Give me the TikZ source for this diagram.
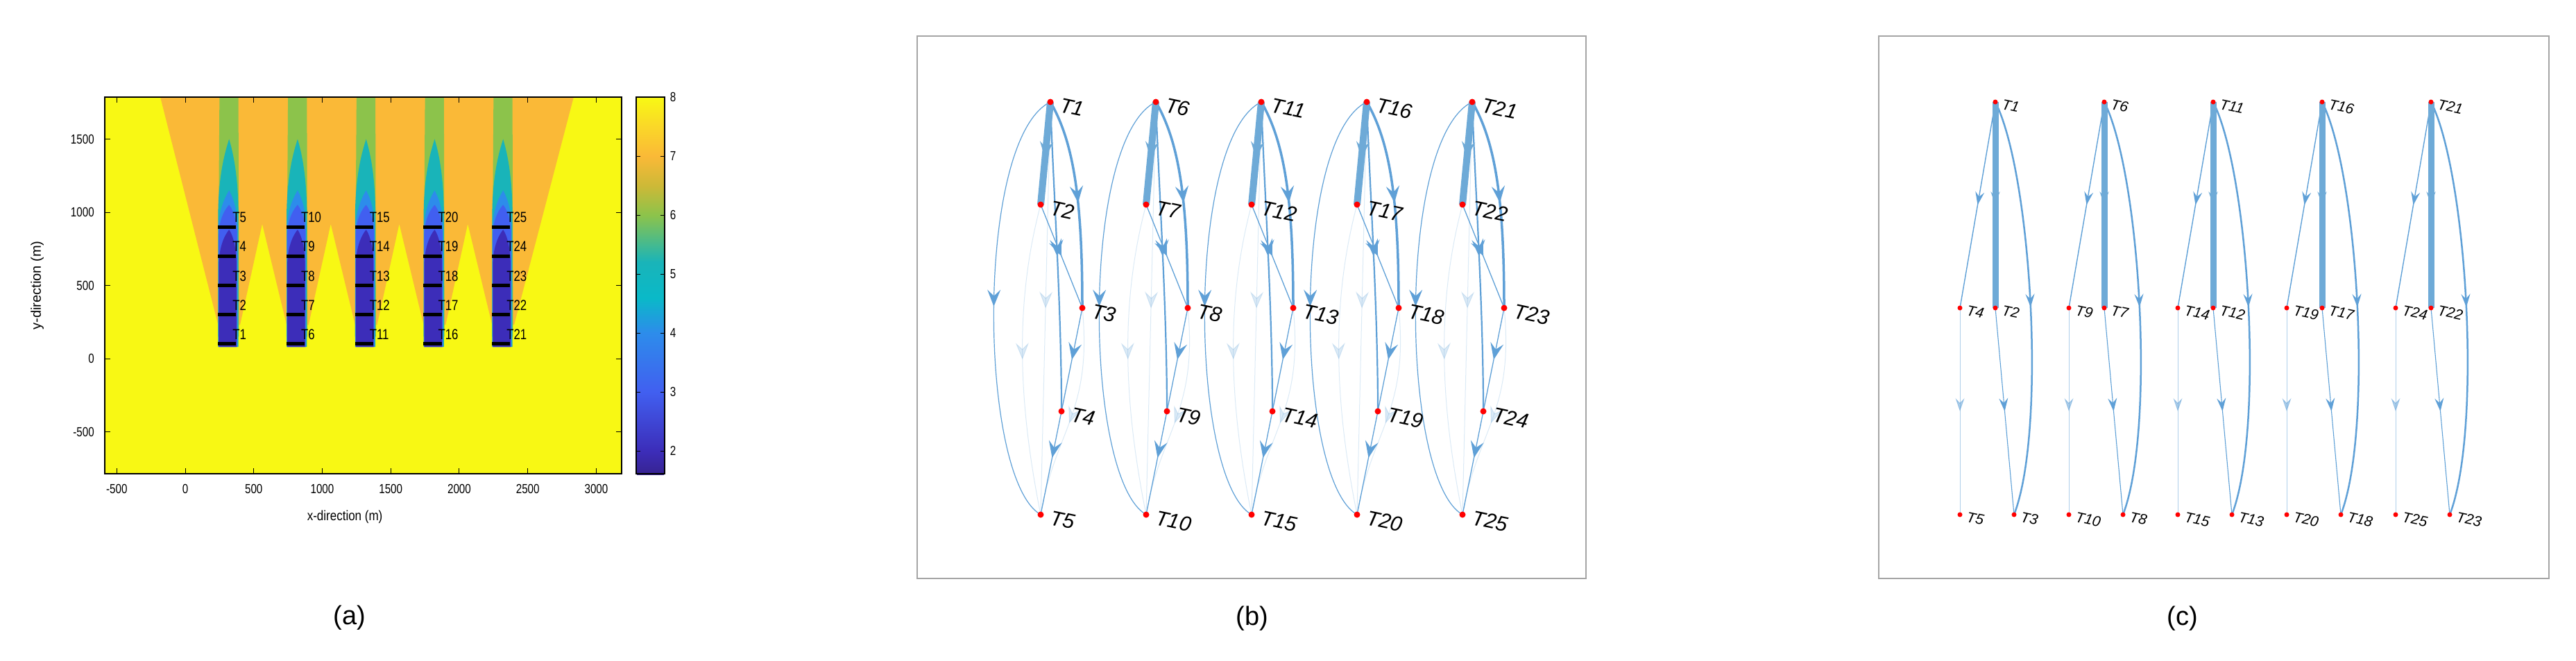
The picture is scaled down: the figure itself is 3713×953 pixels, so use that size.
\documentclass[tikz,border=0pt]{standalone}
\usepackage{fontspec}
\setmainfont{Liberation Sans}
\usetikzlibrary{arrows.meta,decorations.markings}
\definecolor{eb}{RGB}{95,160,215}
\definecolor{pyel}{RGB}{248,248,20}
\definecolor{pora}{RGB}{250,185,55}
\definecolor{pgrn}{RGB}{140,195,75}
\definecolor{ptea}{RGB}{25,180,185}
\definecolor{plbl}{RGB}{45,140,235}
\definecolor{pblu}{RGB}{65,95,240}
\definecolor{pdbl}{RGB}{60,45,185}
\pgfdeclarelayer{bg}
\pgfsetlayers{bg,main}
\tikzset{
  mk/.style={postaction={decorate},decoration={markings,mark=at position #1 with {\arrow{Stealth[length=24pt,width=19pt,inset=9pt]}}}},
  mkc/.style={postaction={decorate},decoration={markings,mark=at position #1 with {\arrow{Stealth[length=19pt,width=13pt,inset=7pt]}}}},
  bdot/.style={circle,fill=red,inner sep=0pt,minimum size=9pt},
  cdot/.style={circle,fill=red,inner sep=0pt,minimum size=7pt},
  blab/.style={anchor=west,rotate=-12,inner sep=0pt,font=\fontsize{30}{30}\selectfont\itshape},
  clab/.style={anchor=west,rotate=-12,inner sep=0pt,font=\fontsize{21}{21}\selectfont\itshape},
  edge/.style={draw=eb,line width=1.3pt},
  faint/.style={draw=eb,line width=1pt,opacity=0.22},
  panel/.style={draw={rgb,255:red,165;green,165;blue,165},line width=2pt},
  tick/.style={font=\fontsize{19}{19}\selectfont,xscale=0.8},
  plab/.style={font=\fontsize{38}{38}\selectfont}
}
\begin{document}
\begin{tikzpicture}[x=1pt,y=-1pt]
\useasboundingbox (0,0) rectangle (3713,953);
\begin{pgfonlayer}{bg}
\fill[white] (0,0) rectangle (3713,953);
\end{pgfonlayer}
% ---------------- panel (a)
\begin{scope}[shift={(267,517)},x=0.1975pt,y=0.211pt]
 \begin{scope}
 \clip (-587,-787) rectangle (3185,1787);
 \fill[pyel] (-587,-787) rectangle (3185,1787);
 \fill[pora] (-182,1787) -- (240,230) -- (400,230) -- (562,920) -- (740,230) -- (900,230) -- (1062,920)
   -- (1240,230) -- (1400,230) -- (1562,920) -- (1740,230) -- (1900,230) -- (2062,920)
   -- (2240,230) -- (2400,230) -- (2835,1787) -- cycle;
 \foreach \c in {300,800,1300,1800,2300}{
   \fill[pgrn] (\c-50,1787) -- (\c-62,150) -- (\c+92,150) -- (\c+88,1787) -- cycle;
   \fill[ptea] (\c-60,80) -- (\c-60,1000) .. controls (\c-55,1300) and (\c+5,1450) .. (\c+20,1500)
      .. controls (\c+35,1450) and (\c+85,1300) .. (\c+88,1000) -- (\c+88,80) -- cycle;
   \fill[plbl] (\c-58,80) -- (\c-58,900) .. controls (\c-50,1050) and (\c+10,1130) .. (\c+20,1150)
      .. controls (\c+30,1130) and (\c+80,1050) .. (\c+82,900) -- (\c+82,80) -- cycle;
   \fill[pblu] (\c-56,80) -- (\c-56,850) .. controls (\c-50,980) and (\c+10,1040) .. (\c+20,1050)
      .. controls (\c+30,1040) and (\c+76,980) .. (\c+78,850) -- (\c+78,80) -- cycle;
   \fill[pdbl] (\c-55,80) -- (\c-55,650) .. controls (\c-50,800) and (\c+10,870) .. (\c+20,880)
      .. controls (\c+30,870) and (\c+72,800) .. (\c+74,650) -- (\c+74,80) -- cycle;
 }
 \end{scope}
 \draw[line width=1.5pt] (-587,-787) rectangle (3185,1787);
 \foreach \v in {-500,0,...,3000}{
   \draw[line width=1pt] (\v,-787) -- ++(0,40) (\v,1787) -- ++(0,-40);
   \node[tick,below] at (\v,-840) {\v};
 }
 \foreach \v in {-500,0,...,1500}{
   \draw[line width=1pt] (-587,\v) -- ++(40,0) (3185,\v) -- ++(-40,0);
   \node[tick,left] at (-650,\v) {\v};
 }
 \node[font=\fontsize{20}{20}\selectfont,xscale=0.85] at (1165,-1080) {x-direction (m)};
 \node[font=\fontsize{20}{20}\selectfont,rotate=90] at (-1080,500) {y-direction (m)};
 \foreach \c [count=\k from 0] in {300,800,1300,1800,2300}{
   \foreach \i in {1,...,5}{
     \pgfmathtruncatemacro\n{5*\k+\i}
     \pgfmathsetmacro\yy{100+200*(\i-1)}
     \draw[line width=5pt] (\c-62,\yy) -- (\c+72,\yy);
     \node[anchor=west,inner sep=0pt,font=\fontsize{21}{21}\selectfont,xscale=0.8] at (\c+45,\yy+65) {T\n};
   }
 }
\end{scope}
% colorbar
\foreach \va/\vb/\ca/\cb in {1.6/2/{rgb,255:red,55;green,35;blue,145}/pdbl,2/3/pdbl/pblu,3/4/pblu/plbl,4/4.6/plbl/{rgb,255:red,10;green,185;blue,200},4.6/5.2/{rgb,255:red,10;green,185;blue,200}/ptea,5.2/6/ptea/pgrn,6/6.5/pgrn/{rgb,255:red,205;green,185;blue,55},6.5/7/{rgb,255:red,205;green,185;blue,55}/pora,7/7.5/pora/{rgb,255:red,250;green,215;blue,40},7.5/8/{rgb,255:red,250;green,215;blue,40}/pyel}{
  \shade[bottom color=\ca,top color=\cb] (918,{650-(\va-2)*85}) rectangle (957,{650-(\vb-2)*85+0.5});
}
\draw[line width=1.5pt] (917,140) rectangle (958,683);
\foreach \v in {2,...,8}{
  \draw[line width=1pt] (917,{650-(\v-2)*85}) -- ++(6,0) (958,{650-(\v-2)*85}) -- ++(-6,0);
  \node[tick,anchor=west] at (963,{650-(\v-2)*85}) {\v};
}
\node[plab] at (504,891) {(a)};
% ---------------- panel (b)
\draw[panel] (1322,52) rectangle (2286,834);
\node[plab] at (1805,892) {(b)};
\foreach \k in {0,...,4}{
  \pgfmathsetmacro\dx{152*\k}
  \foreach \i/\x/\y in {1/1514/147,2/1500/295,3/1560/444,4/1530/593,5/1500/742}{
    \pgfmathtruncatemacro\n{5*\k+\i}
    \node[bdot] (b\n) at (\x+\dx,\y) {};
    \node[blab] at ([shift={(14,4)}]b\n.center) {T\n};
  }
  \pgfmathtruncatemacro\a{5*\k+1}
  \pgfmathtruncatemacro\b{5*\k+2}
  \pgfmathtruncatemacro\c{5*\k+3}
  \pgfmathtruncatemacro\d{5*\k+4}
  \pgfmathtruncatemacro\e{5*\k+5}
  \begin{pgfonlayer}{bg}
  \path[faint,mk=0.5] (b\a.center) -- (b\e.center);
  \path[faint,mk=0.5] (b\b.center) .. controls +(-40,150) and +(-30,-150) .. (b\e.center);
  \path[faint,mk=0.55] (b\c.center) .. controls +(15,150) and +(20,-120) .. (b\e.center);
  \path[edge,line width=1.2pt,mk=0.5] (b\a.center) .. controls (1405+\dx,200) and (1410+\dx,690) .. (b\e.center);
  \path[edge,mk=0.5] (b\b.center) -- (b\c.center);
  \path[edge,mk=0.5] (b\c.center) -- (b\d.center);
  \path[edge,mk=0.45] (b\d.center) -- (b\e.center);
  \path[edge,line width=2.2pt,mk=0.5] (b\a.center) .. controls +(4,120) and +(0,-150) .. (b\d.center);
  \path[edge,line width=3.5pt,mk=0.5] (b\a.center) .. controls +(35,60) and +(0,-150) .. (b\c.center);
  \path[draw={rgb,255:red,110;green,170;blue,215},line width=10pt,mk=0.55] (b\a.center) -- (b\b.center);
  \end{pgfonlayer}
}
% ---------------- panel (c)
\draw[panel] (2708,52) rectangle (3674,834);
\node[plab] at (3146,892) {(c)};
\foreach \k in {0,...,4}{
  \pgfmathsetmacro\dx{157*\k}
  \foreach \i/\x/\y in {1/2876/147,2/2876/444,3/2903/742,4/2825/444,5/2825/742}{
    \pgfmathtruncatemacro\n{5*\k+\i}
    \node[cdot] (c\n) at (\x+\dx,\y) {};
    \node[clab] at ([shift={(10,3)}]c\n.center) {T\n};
  }
  \pgfmathtruncatemacro\a{5*\k+1}
  \pgfmathtruncatemacro\b{5*\k+2}
  \pgfmathtruncatemacro\c{5*\k+3}
  \pgfmathtruncatemacro\d{5*\k+4}
  \pgfmathtruncatemacro\e{5*\k+5}
  \begin{pgfonlayer}{bg}
  \path[edge,line width=1pt,opacity=0.5,mkc=0.5] (c\d.center) -- (c\e.center);
  \path[edge,line width=1.1pt,mkc=0.5] (c\b.center) -- (c\c.center);
  \path[edge,line width=1.4pt,mkc=0.5] (c\a.center) -- (c\d.center);
  \path[edge,line width=2.5pt,mkc=0.5] (c\a.center) .. controls (2928+\dx,250) and (2950+\dx,620) .. (c\c.center);
  \path[draw={rgb,255:red,110;green,170;blue,215},line width=9pt,mkc=0.5] (c\a.center) -- (c\b.center);
  \end{pgfonlayer}
}
\end{tikzpicture}
\end{document}
